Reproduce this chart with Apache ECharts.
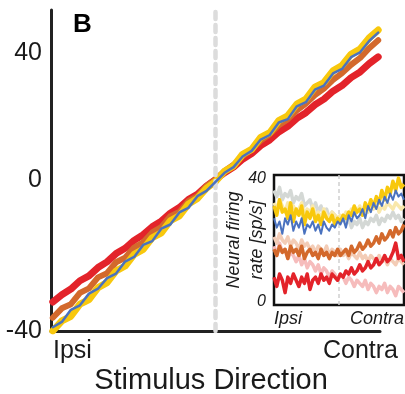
<!DOCTYPE html>
<html>
<head>
<meta charset="utf-8">
<script src="https://cdn.jsdelivr.net/npm/echarts@6/dist/echarts.min.js"></script>
<style>
  html, body { margin: 0; padding: 0; background: #fff; }
  #chart { width: 405px; height: 394px; }
</style>
</head>
<body>
<div id="chart"></div>
<script>
// Decoded stimulus direction vs. true direction (main panel)
const stimDir = [-90,-85,-80,-75,-70,-65,-60,-55,-50,-45,-40,-35,-30,-25,-20,-15,-10,-5,0,
                 5,10,15,20,25,30,35,40,45,50,55,60,65,70,75,80,85,90];
const decodedRed = [-32.3,-30.4,-28.9,-26.7,-25.4,-23.2,-21.7,-19.5,-18.1,-16.0,-14.5,-12.4,-10.9,-8.8,-7.3,-5.2,-3.8,-1.6,0.1,
                    1.9,3.4,5.5,7.0,9.1,10.6,12.7,14.2,16.3,17.8,19.9,21.4,23.5,25.0,27.1,28.6,30.8,32.6];
const decodedOrange = [-36.5,-34.0,-32.9,-29.9,-28.7,-25.8,-24.7,-21.8,-20.6,-17.9,-16.5,-13.9,-12.5,-9.6,-8.5,-5.6,-4.3,-1.6,0.1,
                       2.4,4.0,6.3,8.1,10.4,12.1,14.5,16.1,18.4,20.2,22.5,24.2,26.5,28.3,30.5,32.3,34.9,37.0];
const decodedYellow = [-40.0,-37.3,-36.1,-32.9,-31.7,-28.5,-27.2,-24.1,-22.8,-19.7,-18.4,-15.3,-14.0,-10.8,-9.5,-6.4,-4.9,-2.2,-0.4,
                       2.3,3.7,6.8,8.1,11.3,12.5,15.7,17.0,20.1,21.4,24.6,25.8,28.9,30.3,33.3,34.7,37.6,39.7];
const decodedBlue = [-39.0,-37.6,-34.4,-33.2,-30.1,-28.8,-26.0,-24.8,-21.6,-20.4,-17.2,-16.2,-12.9,-11.8,-8.6,-7.4,-4.3,-2.9,-0.5,
                     1.9,3.4,6.2,7.7,10.7,11.9,15.2,16.1,19.5,20.6,23.9,25.0,28.2,29.4,32.5,33.8,36.8,39.0];

// Tick labels
const yTicksLower = [-40, 0];
const yTicksUpper = [40];
const dirLabels = ['Ipsi', 'Contra'];

// Inset: firing rate (sp/s) across stimulus positions
const insetPos = [0,1,2,3,4,5,6,7,8,9,10,11,12,13,14,15,16,17,18,19,20,21,22,23,
                  24,25,26,27,28,29,30,31,32,33,34,35,36,37,38,39,40,41,42,43,44,45,46,47];
const rateYellow = [31,28,33,29,30,27,32,26,30,28,31,25,29,27,30,26,28,25,29,27,26,28,25,27,
                    26,28,27,29,28,31,29,30,28,32,30,33,31,34,32,36,33,37,35,39,36,40,37,38];
const rateBlue = [27,24,26,22,27,25,28,23,26,24,27,22,25,24,26,23,25,22,26,24,23,25,24,26,
                  25,27,24,28,26,29,27,28,30,27,31,29,32,30,33,31,34,32,35,33,36,34,35,33];
const rateGrayFaint = [36,34,37,33,35,34,36,32,34,33,35,31,32,33,30,32,29,31,28,30,27,29,28,27,
                       26,28,25,27,24,26,25,27,24,26,25,27,26,28,25,27,26,28,27,29,27,28,26,27];
const rateYellowFaint = [32,30,33,31,29,32,30,31,29,30,32,28,30,29,31,28,29,27,30,28,27,29,28,27,
                         28,27,29,28,30,28,29,31,28,30,29,31,30,32,29,31,30,32,31,30,32,31,30,31];
const rateOrange = [17,15,18,16,17,14,18,16,17,15,18,14,16,17,15,16,14,17,15,16,14,16,15,17,
                    15,16,17,15,18,16,17,19,17,18,20,18,19,21,19,22,20,21,23,21,24,22,23,25];
const rateOrangeFaint = [21,19,22,20,19,21,18,20,19,17,20,18,19,17,18,16,18,17,16,18,15,17,16,15,
                         17,15,16,14,16,15,14,16,14,15,13,15,14,13,15,13,14,12,14,13,12,14,13,12];
const rateRed = [8,5,9,7,3,8,6,9,7,5,8,6,9,4,7,8,6,9,7,8,6,9,8,7,
                 9,8,10,9,11,9,10,12,10,11,13,11,12,14,12,13,15,13,14,16,19,14,15,13];
const rateRedFaint = [18,15,19,16,17,14,16,15,13,15,12,14,11,13,12,10,12,9,11,10,8,10,9,7,
                      9,8,6,8,7,5,7,6,5,7,4,6,5,3,5,4,6,3,5,4,2,5,4,3];
const rateTicks = [0, 40];

const C = {
  red: '#e3232a', orange: '#d3692c', yellow: '#f8c80d', blue: '#4a72bf',
  redFaint: '#f6bcbc', orangeFaint: '#f3ccb6', yellowFaint: '#f9e8ab', grayFaint: '#d4d8d5',
  ink: '#1a1a1a'
};

const pairs = (xs, ys) => xs.map((x, i) => [x, ys[i]]);
const font = 'Liberation Sans, Arial, Helvetica, sans-serif';
const hidden = { axisLine: { show: false }, axisTick: { show: false }, splitLine: { show: false } };

function mainLine(name, ys, color, width, z) {
  return {
    name, type: 'line', xAxisIndex: 0, yAxisIndex: 0, data: pairs(stimDir, ys),
    showSymbol: false, silent: true, z,
    lineStyle: { color, width, join: 'round', cap: 'round' }
  };
}
function insetLine(name, ys, color, width, z) {
  return {
    name, type: 'line', xAxisIndex: 2, yAxisIndex: 2, data: pairs(insetPos, ys),
    showSymbol: false, silent: true, z, clip: true,
    lineStyle: { color, width, join: 'round' }
  };
}

const chart = echarts.init(document.getElementById('chart'), null, { renderer: 'canvas' });
chart.setOption({
  animation: false,
  backgroundColor: '#fff',
  title: {
    text: 'B', left: 68, top: 7,
    textStyle: { fontFamily: font, fontSize: 26, fontWeight: 'bold', color: '#000' }
  },
  grid: [
    { left: 51, right: 25, top: 10, bottom: 63, containLabel: false, outerBoundsMode: 'none' },
    { left: 53, right: 7, top: 10, bottom: 63, containLabel: false, outerBoundsMode: 'none' },
    { left: 274, top: 175, width: 130, height: 130, show: true, backgroundColor: '#fff',
      borderColor: '#111', borderWidth: 2.5, z: 5, containLabel: false, outerBoundsMode: 'none' }
  ],
  xAxis: [
    {
      type: 'value', gridIndex: 0, min: -91, max: 91,
      name: 'Stimulus Direction', nameLocation: 'middle', nameGap: 35,
      nameTextStyle: { fontFamily: font, fontSize: 29, color: C.ink, padding: [0, 9, 0, 0] },
      axisLine: { show: true, onZero: false, lineStyle: { color: '#222', width: 3 } },
      axisTick: { show: false }, axisLabel: { show: false }, splitLine: { show: false }
    },
    {
      type: 'value', gridIndex: 1, min: 0, max: 1, ...hidden,
      axisLabel: {
        customValues: [0, 1], alignMinLabel: 'left', alignMaxLabel: 'right', margin: 8,
        formatter: v => dirLabels[v], fontFamily: font, fontSize: 25, color: C.ink
      }
    },
    {
      type: 'value', gridIndex: 2, min: 0, max: 47, ...hidden,
      axisLabel: {
        customValues: [0, 47], alignMinLabel: 'left', alignMaxLabel: 'right', margin: 5,
        formatter: v => (v === 0 ? dirLabels[0] : dirLabels[1]),
        fontFamily: font, fontSize: 18, fontStyle: 'italic', color: C.ink
      }
    }
  ],
  yAxis: [
    {
      type: 'value', gridIndex: 0, min: -40, max: 45,
      axisLine: { show: true, onZero: false, lineStyle: { color: '#222', width: 3 } },
      axisTick: { show: false }, splitLine: { show: false },
      axisLabel: { customValues: yTicksLower, margin: 9, fontFamily: font, fontSize: 25, color: C.ink }
    },
    {
      type: 'value', gridIndex: 0, min: -49.7, max: 53.9, position: 'left', ...hidden,
      axisLabel: { customValues: yTicksUpper, margin: 9, fontFamily: font, fontSize: 25, color: C.ink }
    },
    {
      type: 'value', gridIndex: 2, min: -1, max: 41, ...hidden,
      name: 'Neural firing\nrate [sp/s]', nameLocation: 'middle', nameGap: 6, nameRotate: 90,
      nameMoveOverlap: false,
      nameTextStyle: { fontFamily: font, fontSize: 18, fontStyle: 'italic', color: C.ink, lineHeight: 23 },
      axisLabel: { customValues: rateTicks, margin: 8, fontFamily: font, fontSize: 16, fontStyle: 'italic', color: C.ink }
    },
    {
      type: 'value', gridIndex: 1, min: 0, max: 1, ...hidden, axisLabel: { show: false }
    }
  ],
  series: [
    {
      type: 'line', xAxisIndex: 0, yAxisIndex: 0, data: [], silent: true, z: 1,
      markLine: {
        silent: true, symbol: 'none', label: { show: false },
        lineStyle: { color: '#dcdcdc', width: 4.5, type: [7, 6], cap: 'round' },
        data: [{ xAxis: 0 }]
      }
    },
    mainLine('red', decodedRed, C.red, 7, 2),
    mainLine('orange', decodedOrange, C.orange, 6, 3),
    mainLine('yellow', decodedYellow, C.yellow, 7, 4),
    mainLine('blue', decodedBlue, C.blue, 2.5, 5),
    {
      type: 'line', xAxisIndex: 2, yAxisIndex: 2, data: [], silent: true, z: 6,
      markLine: {
        silent: true, symbol: 'none', label: { show: false },
        lineStyle: { color: '#d0d0d0', width: 1.5, type: [4, 3] },
        data: [{ xAxis: 23.5 }]
      }
    },
    insetLine('redFaint', rateRedFaint, C.redFaint, 3.5, 6),
    insetLine('orangeFaint', rateOrangeFaint, C.orangeFaint, 3.5, 6),
    insetLine('grayFaint', rateGrayFaint, C.grayFaint, 3.5, 6),
    insetLine('yellowFaint', rateYellowFaint, C.yellowFaint, 3.5, 6),
    insetLine('red', rateRed, C.red, 3.5, 7),
    insetLine('orange', rateOrange, C.orange, 3.5, 7),
    insetLine('yellow', rateYellow, C.yellow, 3.5, 7),
    insetLine('blue', rateBlue, C.blue, 2, 8)
  ]
});
</script>
</body>
</html>
